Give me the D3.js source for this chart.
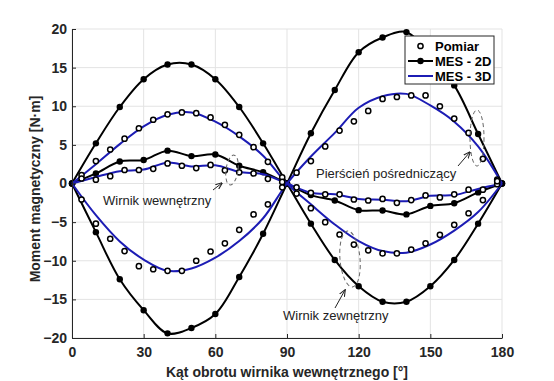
<!DOCTYPE html>
<html><head><meta charset="utf-8">
<script src="https://cdn.jsdelivr.net/npm/d3@7"></script>
<style>
body{margin:0;background:#fff}
svg{display:block}
text{font-family:"Liberation Sans",Arial,sans-serif}
</style>
</head><body>
<svg id="c" width="554" height="381"></svg>
<script>
// ---- data ----
const anglesFEM = [0,10,20,30,40,50,60,70,80,90,100,110,120,130,140,150,160,170,180];
const outer2D = [0,5.2,9.9,13.5,15.4,15.4,13.5,9.9,5.2,0,-5.2,-9.9,-13.3,-15.3,-15.3,-13.3,-9.9,-5.2,0];
const ring2D  = [0,-6.3,-12.4,-16.4,-19.4,-18.7,-16.9,-12.1,-6.5,0,6.5,12.1,17.0,18.9,19.6,16.4,12.7,6.4,0];
const inner2D = [0,1.3,2.85,3.05,4.25,3.55,3.75,2.3,1.45,0,-1.5,-2.2,-3.45,-3.5,-4.0,-2.9,-2.55,-1.15,0];
const outer3D = [0,2.5,5.1,7.4,8.9,9.2,8.0,6.1,3.6,0,-2.7,-5.3,-7.45,-8.75,-8.95,-7.9,-6.1,-3.7,0];
const ring3D  = [0,-4.1,-7.5,-9.85,-11.3,-11.0,-9.6,-7.45,-4.5,0,3.5,6.55,9.8,11.3,11.6,10.1,8.0,4.8,0];
const inner3D = [0,0.85,1.6,1.8,2.7,2.2,2.35,1.5,1.2,0,-1.2,-1.4,-2.0,-2.1,-2.3,-1.6,-1.5,-0.7,0];

const anglesMeas = [4,10,16,22,28,34,40,46,52,58,64,70,76,82,88,94,100,106,112,118,124,130,136,142,148,154,160,166,172,178];
const measOuter = [1.1,2.9,4.4,5.8,7.15,8.25,8.95,9.2,9.1,8.55,7.6,6.3,4.7,2.8,0.8,-1.3,-3.2,-5.0,-6.6,-7.9,-8.65,-9.05,-9.05,-8.55,-7.75,-6.65,-5.35,-3.85,-2.15,-0.1];
const measRing  = [-2.07,-5.2,-7.15,-8.75,-10.7,-11.1,-11.3,-11.3,-10.0,-8.8,-7.75,-6.0,-4.0,-2.7,-0.5,1.4,2.9,4.8,6.85,8.05,9.4,10.95,11.2,11.4,11.4,10.0,8.4,6.55,3.2,0.5];
const measInner = [0.65,0.5,0.95,1.75,1.75,1.9,2.6,2.3,2.0,2.4,1.7,1.45,1.3,0.6,0.2,-0.5,-1.2,-1.4,-1.4,-2.07,-2.2,-2.0,-2.5,-2.15,-1.55,-1.8,-1.4,-0.8,-0.8,0.3];

const xTicks = [0,30,60,90,120,150,180];
const yTicks = [-20,-15,-10,-5,0,5,10,15,20];
const legendLabels = ["Pomiar","MES - 2D","MES - 3D"];
const xLabel = "Kąt obrotu wirnika wewnętrznego [°]";
const yLabel = "Moment magnetyczny [N·m]";

// ---- drawing ----
const svg = d3.select("#c");
const x = d3.scaleLinear().domain([0,180]).range([72,502]);
const y = d3.scaleLinear().domain([-20,20]).range([338,29]);
const BLUE = "#1c1cb4", DARK = "#262626";

// grid
const g = svg.append("g");
g.selectAll(".gx").data(xTicks).join("line")
  .attr("x1",d=>x(d)).attr("x2",d=>x(d)).attr("y1",y(-20)).attr("y2",y(20))
  .attr("stroke","#e3e3e3").attr("stroke-width",1);
g.selectAll(".gy").data(yTicks).join("line")
  .attr("x1",x(0)).attr("x2",x(180)).attr("y1",d=>y(d)).attr("y2",d=>y(d))
  .attr("stroke","#e3e3e3").attr("stroke-width",1);

const line = d3.line().x(d=>x(d[0])).y(d=>y(d[1])).curve(d3.curveCatmullRom.alpha(0.5));
const zipF = v => anglesFEM.map((a,i)=>[a,v[i]]);
const zipM = v => anglesMeas.map((a,i)=>[a,v[i]]);

[outer2D, ring2D, inner2D].forEach(s=>{
  svg.append("path").attr("d",line(zipF(s))).attr("fill","none")
    .attr("stroke","#000").attr("stroke-width",2);
  svg.append("g").selectAll("circle").data(zipF(s)).join("circle")
    .attr("cx",d=>x(d[0])).attr("cy",d=>y(d[1])).attr("r",3.2).attr("fill","#000");
});
[outer3D, ring3D, inner3D].forEach(s=>{
  svg.append("path").attr("d",line(zipF(s))).attr("fill","none")
    .attr("stroke",BLUE).attr("stroke-width",2);
});
[measOuter, measRing, measInner].forEach(s=>{
  svg.append("g").selectAll("circle").data(zipM(s)).join("circle")
    .attr("cx",d=>x(d[0])).attr("cy",d=>y(d[1])).attr("r",2.6)
    .attr("fill","#fff").attr("stroke","#000").attr("stroke-width",1.5);
});

// axes
const ax = svg.append("g").attr("transform",`translate(0,${y(-20)})`)
  .call(d3.axisBottom(x).tickValues(xTicks).tickSizeInner(-4).tickSizeOuter(0).tickPadding(9));
const ay = svg.append("g").attr("transform",`translate(${x(0)},0)`)
  .call(d3.axisLeft(y).tickValues(yTicks).tickSizeInner(-4).tickSizeOuter(0).tickPadding(5));
[ax,ay].forEach(a=>{
  a.select(".domain").attr("stroke",DARK);
  a.selectAll(".tick line").attr("stroke",DARK);
  a.selectAll("text").attr("font-size",14).attr("font-weight","bold")
    .attr("fill",DARK).attr("font-family",'"Liberation Sans",Arial,sans-serif');
});

svg.append("text").attr("x",287).attr("y",377).attr("text-anchor","middle")
  .attr("font-size",14).attr("font-weight","bold").attr("fill",DARK).text(xLabel);
svg.append("text").attr("transform","translate(40,189) rotate(-90)").attr("text-anchor","middle")
  .attr("font-size",14).attr("font-weight","bold").attr("fill",DARK).text(yLabel);

// annotations
const defs = svg.append("defs");
defs.append("marker").attr("id","arr").attr("viewBox","0 0 10 10").attr("refX",9).attr("refY",5)
  .attr("markerWidth",7).attr("markerHeight",7).attr("orient","auto")
  .append("path").attr("d","M0,1 L10,5 L0,9").attr("fill","none").attr("stroke","#222").attr("stroke-width",1.5);

const ann = [
  {t:"Wirnik wewnętrzny", tx:103, ty:205, ex:232, ey:170, rx:6, ry:15, rot:8, a:[213,190,222,183]},
  {t:"Pierścień pośredniczący", tx:316, ty:178, ex:477, ey:138, rx:7, ry:28, rot:0, a:[458,166,470,152]},
  {t:"Wirnik zewnętrzny", tx:283, ty:320, ex:350, ey:259, rx:10, ry:28, rot:-5, a:[335,308,345,290]}
];
ann.forEach(d=>{
  svg.append("ellipse").attr("cx",d.ex).attr("cy",d.ey).attr("rx",d.rx).attr("ry",d.ry)
    .attr("transform",`rotate(${d.rot},${d.ex},${d.ey})`)
    .attr("fill","none").attr("stroke","#666").attr("stroke-width",1).attr("stroke-dasharray","4,3");
  svg.append("line").attr("x1",d.a[0]).attr("y1",d.a[1]).attr("x2",d.a[2]).attr("y2",d.a[3])
    .attr("stroke","#222").attr("stroke-width",1).attr("marker-end","url(#arr)");
  svg.append("text").attr("x",d.tx).attr("y",d.ty).attr("font-size",13).attr("fill","#222").text(d.t);
});

// legend
const lg = svg.append("g");
lg.append("rect").attr("x",405).attr("y",36).attr("width",89).attr("height",48)
  .attr("fill","#fff").attr("stroke",DARK).attr("stroke-width",1);
const ly = [46,61,76];
lg.append("circle").attr("cx",420.5).attr("cy",ly[0]).attr("r",2.6).attr("fill","#fff").attr("stroke","#000").attr("stroke-width",1.5);
lg.append("line").attr("x1",408).attr("x2",433).attr("y1",ly[1]).attr("y2",ly[1]).attr("stroke","#000").attr("stroke-width",2);
lg.append("circle").attr("cx",420.5).attr("cy",ly[1]).attr("r",3.2).attr("fill","#000");
lg.append("line").attr("x1",408).attr("x2",433).attr("y1",ly[2]).attr("y2",ly[2]).attr("stroke",BLUE).attr("stroke-width",2);
lg.selectAll("text.l").data(legendLabels).join("text")
  .attr("x",435).attr("y",(d,i)=>ly[i]+4.7).attr("font-size",13).attr("font-weight","bold")
  .attr("fill","#000").text(d=>d);
</script>
</body></html>
